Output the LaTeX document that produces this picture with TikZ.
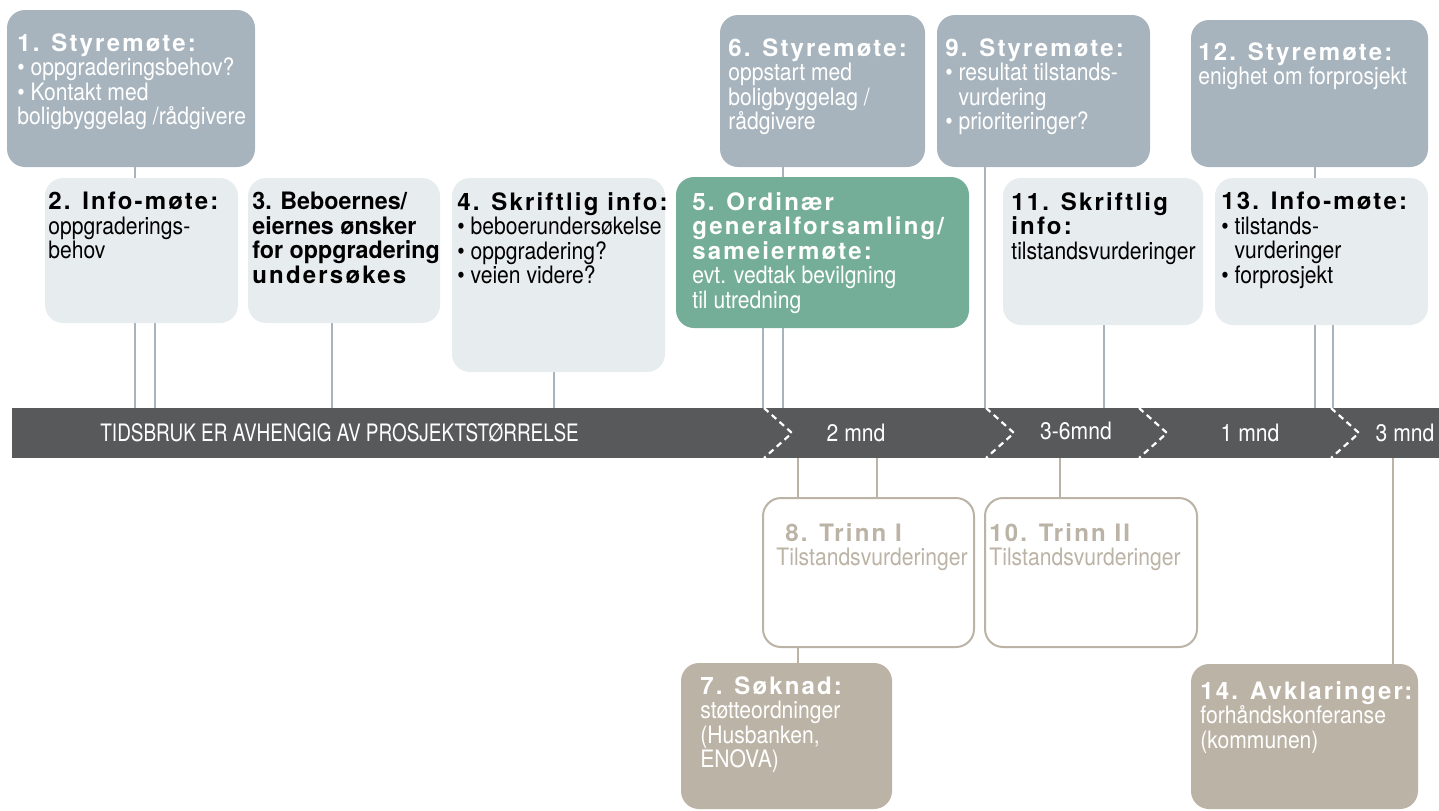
\documentclass[tikz,border=0pt]{standalone}
\usepackage{fontspec}
\setmainfont{TeX Gyre Heros}
\newfontfamily\condfont[FakeStretch=0.88]{TeX Gyre Heros}
\newfontfamily\barfont[FakeStretch=0.79]{TeX Gyre Heros}
\newfontfamily\spacedfont[LetterSpace=9]{TeX Gyre Heros}
\newfontfamily\tightfont[FakeStretch=0.97]{TeX Gyre Heros}
\usetikzlibrary{fit,backgrounds}

\definecolor{boardgrey}{HTML}{A7B4BD}
\definecolor{infogrey}{HTML}{E7ECEE}
\definecolor{meetgreen}{HTML}{75AE98}
\definecolor{applytan}{HTML}{BBB3A5}
\definecolor{bargrey}{HTML}{58595B}

\newcommand{\ttl}[1]{{\spacedfont\bfseries #1}}
\newcommand{\bld}[1]{{\tightfont\bfseries #1}}
\newcommand{\ind}{\phantom{\textbullet\ }}

\tikzset{
  boardbox/.style={fill=boardgrey, rounded corners=9pt, inner sep=0pt},
  infobox/.style={fill=infogrey, rounded corners=9pt, inner sep=0pt},
  gfbox/.style={fill=meetgreen, rounded corners=9pt, inner sep=0pt},
  tanbox/.style={fill=applytan, rounded corners=9pt, inner sep=0pt},
  stagebox/.style={draw=applytan, fill=white, line width=1pt, rounded corners=9pt, inner sep=0pt},
  txt/.style={anchor=north west, inner sep=0pt, align=left,
    font=\condfont\fontsize{12}{12.25}\selectfont},
  dur/.style={text=white, inner sep=0pt, font=\condfont\fontsize{12}{12.25}\selectfont},
  uplink/.style={draw=boardgrey, line width=0.7pt},
  downlink/.style={draw=applytan, line width=0.7pt},
  chev/.style={draw=white, line width=1.1pt, dash pattern=on 3pt off 2.2pt}
}

\begin{document}
\begin{tikzpicture}[x=0.5pt,y=-0.5pt]
\useasboundingbox (0,0) rectangle (1439,810);

% STYREMOTER (top row)
  \node[boardbox, fit={(7,10) (255,167)}] (b1) {};
  \node[txt, text=white] (t1) at (17,33) {\ttl{1. Styremøte:}\\\textbullet\ oppgraderingsbehov?\\\textbullet\ Kontakt med\\boligbyggelag /rådgivere};

  \node[boardbox, fit={(720,15) (925,167)}] (b6) {};
  \node[txt, text=white] (t6) at (728,38) {\ttl{6. Styremøte:}\\oppstart med\\boligbyggelag /\\rådgivere};

  \node[boardbox, fit={(937,15) (1150,167)}] (b9) {};
  \node[txt, text=white] (t9) at (945,38) {\ttl{9. Styremøte:}\\\textbullet\ resultat tilstands-\\\ind vurdering\\\textbullet\ prioriteringer?};

  \node[boardbox, fit={(1191,20) (1428,167)}] (b12) {};
  \node[txt, text=white] (t12) at (1198,42) {\ttl{12. Styremøte:}\\enighet om forprosjekt};

% INFO (second row)
  \node[infobox, fit={(45,178) (238,323)}] (b2) {};
  \node[txt] (t2) at (48,192) {\ttl{2. Info-møte:}\\oppgraderings-\\behov};

  \node[infobox, fit={(248,178) (440,323)}] (b3) {};
  \node[txt] (t3) at (252,192) {\bld{3. Beboernes/}\\\bld{eiernes ønsker}\\\bld{for oppgradering}\\\ttl{undersøkes}};

  \node[infobox, fit={(452,178) (665,372)}] (b4) {};
  \node[txt] (t4) at (457,192) {\ttl{4. Skriftlig info:}\\\textbullet\ beboerundersøkelse\\\textbullet\ oppgradering?\\\textbullet\ veien videre?};

  \node[gfbox, fit={(676,177) (969,328)}] (b5) {};
  \node[txt, text=white] (t5) at (692,192) {\ttl{5. Ordinær}\\\ttl{generalforsamling/}\\\ttl{sameiermøte:}\\evt. vedtak bevilgning\\til utredning};

  \node[infobox, fit={(1003,178) (1203,325)}] (b11) {};
  \node[txt] (t11) at (1011,192) {\ttl{11. Skriftlig}\\\ttl{info:}\\tilstandsvurderinger};

  \node[infobox, fit={(1215,178) (1428,325)}] (b13) {};
  \node[txt] (t13) at (1221,192) {\ttl{13. Info-møte:}\\\textbullet\ tilstands-\\\ind vurderinger\\\textbullet\ forprosjekt};

% TIMELINE
  \node[fill=bargrey, inner sep=0pt, fit={(12,408) (1439,458)}] (bar) {};
  \node[txt, anchor=west, text=white, font=\barfont\fontsize{12}{12.25}\selectfont] (tl) at (100,433) {TIDSBRUK ER AVHENGIG AV PROSJEKTSTØRRELSE};
  \foreach \cx in {764,986,1139,1331}
    \draw[chev] (\cx,408) -- (\cx+28,433) -- (\cx,458);
  \node[dur] (d1) at (856,433) {2 mnd};
  \node[dur] (d2) at (1076,431) {3-6mnd};
  \node[dur] (d3) at (1250,433) {1 mnd};
  \node[dur] (d4) at (1405,433) {3 mnd};

% TRINN (below)
  \node[stagebox, fit={(763,498) (974,647)}] (b8) {};
  \node[txt, text=applytan] (t8) at (776,523) {\hspace{4.5pt}\ttl{8. Trinn I}\\Tilstandsvurderinger};

  \node[stagebox, fit={(985,498) (1197,647)}] (b10) {};
  \node[txt, text=applytan] (t10) at (989,523) {\ttl{10. Trinn II}\\Tilstandsvurderinger};

  \node[tanbox, fit={(681,663) (892,809)}] (b7) {};
  \node[txt, text=white] (t7) at (700,676) {\ttl{7. Søknad:}\\støtteordninger\\(Husbanken,\\ENOVA)};

  \node[tanbox, fit={(1191,664) (1418,809)}] (b14) {};
  \node[txt, text=white] (t14) at (1200,681) {\ttl{14. Avklaringer:}\\forhåndskonferanse\\(kommunen)};

% connectors
  \coordinate (p1) at (135,408);  \coordinate (p2) at (155,408);
  \coordinate (p3) at (332,408);  \coordinate (p4) at (554,408);
  \coordinate (p5) at (763,408);  \coordinate (p6) at (783,408);
  \coordinate (p9) at (985,408);  \coordinate (p11) at (1104,408);
  \coordinate (p12) at (1315,408); \coordinate (p13) at (1333,408);
  \coordinate (q7) at (798,458);  \coordinate (q8) at (877,458);
  \coordinate (q10) at (1060,458); \coordinate (q14) at (1393,458);
  \begin{scope}[on background layer]
    \draw[uplink] (b1.south -| p1) -- (p1);
    \draw[uplink] (b2.south -| p2) -- (p2);
    \draw[uplink] (b3.south -| p3) -- (p3);
    \draw[uplink] (b4.south -| p4) -- (p4);
    \draw[uplink] (b5.south -| p5) -- (p5);
    \draw[uplink] (b6.south -| p6) -- (p6);
    \draw[uplink] (b9.south -| p9) -- (p9);
    \draw[uplink] (b11.south -| p11) -- (p11);
    \draw[uplink] (b12.south -| p12) -- (p12);
    \draw[uplink] (b13.south -| p13) -- (p13);
    \draw[downlink] (q7) -- (b7.north -| q7);
    \draw[downlink] (q8) -- (b8.north -| q8);
    \draw[downlink] (q10) -- (b10.north -| q10);
    \draw[downlink] (q14) -- (b14.north -| q14);
  \end{scope}
\end{tikzpicture}
\end{document}
